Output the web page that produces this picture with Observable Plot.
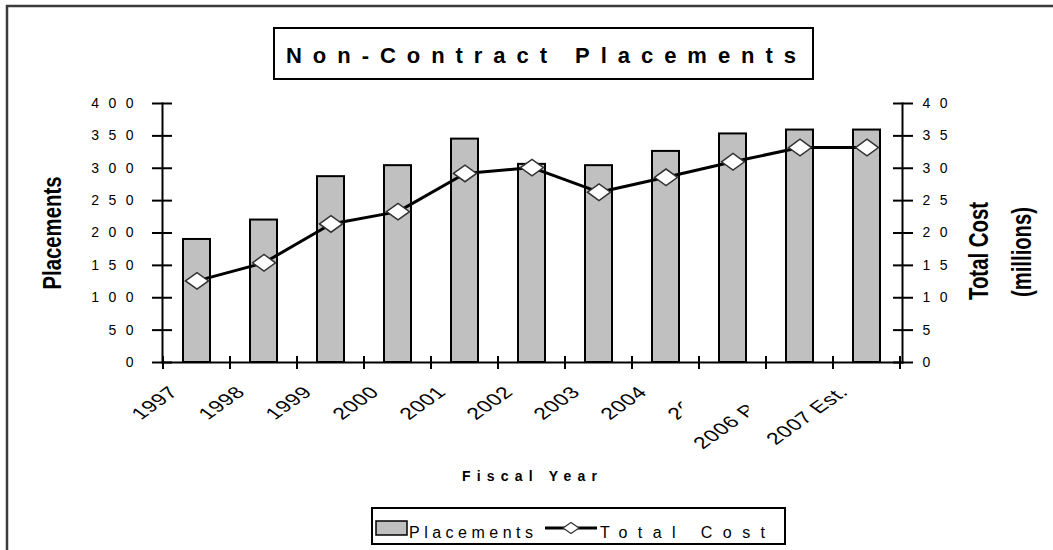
<!DOCTYPE html>
<html>
<head>
<meta charset="utf-8">
<script src="https://cdn.jsdelivr.net/npm/d3@7"></script>
<script src="https://cdn.jsdelivr.net/npm/@observablehq/plot@0.6"></script>
<style>
  html, body { margin: 0; padding: 0; background: #fff; }
  #chart { position: relative; width: 1053px; height: 550px; overflow: hidden; }
  #chart svg { display: block; }
  #chart g[aria-label="y-axis tick label"] text { letter-spacing: 9.5px; }
</style>
</head>
<body>
<div id="chart"></div>
<script>
// ---- data ----
const years = ["1997", "1998", "1999", "2000", "2001", "2002", "2003", "2004", "2005", "2006 Proj.", "2007 Est."];
const placements = [190, 220, 287, 304, 345, 306, 304, 326, 353, 359, 359];
const totalCost = [12.6, 15.4, 21.4, 23.3, 29.2, 30.1, 26.3, 28.6, 31.0, 33.2, 33.2];
const leftTicks = [0, 50, 100, 150, 200, 250, 300, 350, 400];
const rightTicks = [0, 5, 10, 15, 20, 25, 30, 35, 40];
const clippedLabels = ["2005", "2006 Proj."];
const titleText = "Non-Contract Placements";
const xTitle = "Fiscal Year";
const yLeftTitle = "Placements";
const yRightTitle = ["Total Cost", "(millions)"];
const legendBar = "Placements";
const legendLine = "Total Cost";
const costFactor = 10; // right axis (millions) maps onto left axis (placements)

const rows = years.map((year, i) => ({year, placements: placements[i], cost: totalCost[i]}));

const FONT = "'Liberation Sans', Arial, Helvetica, sans-serif";

const flatDiamond = {
  draw(ctx, size) {
    const r = Math.sqrt(size / Math.PI);
    const w = r, h = r * 0.72;
    ctx.moveTo(-w, 0); ctx.lineTo(0, -h); ctx.lineTo(w, 0); ctx.lineTo(0, h); ctx.closePath();
  }
};

const W = 1053, H = 550;
const plot = Plot.plot({
  width: W, height: H,
  marginLeft: 162, marginRight: 151, marginTop: 103, marginBottom: 188,
  style: {fontFamily: FONT, fontSize: "14px", color: "#000", background: "#fff", overflow: "visible"},
  x: {type: "band", domain: years, paddingInner: 0.59, paddingOuter: 0.295, axis: null},
  y: {domain: [0, 400], axis: null},
  marks: [
    Plot.barY(rows, {x: "year", y: "placements", fill: "#c0c0c0", stroke: "#000", strokeWidth: 2}),
    Plot.frame({anchor: "left", stroke: "#000", strokeWidth: 2}),
    Plot.frame({anchor: "right", stroke: "#000", strokeWidth: 2}),
    Plot.frame({anchor: "bottom", stroke: "#000", strokeWidth: 2}),
    Plot.axisY({ticks: leftTicks, tickSize: 20, dx: 10, tickPadding: 9.5, strokeWidth: 2,
      tickFormat: d => String(d), fontSize: 14, label: null}),
    Plot.axisY({anchor: "right", ticks: rightTicks.map(v => v * costFactor), tickSize: 20, dx: -10, tickPadding: 10,
      strokeWidth: 2, tickFormat: d => String(d / costFactor), fontSize: 14, label: null}),
    Plot.line(rows, {x: "year", y: d => d.cost * costFactor, stroke: "#000", strokeWidth: 3}),
    Plot.dot(rows, {x: "year", y: d => d.cost * costFactor, symbol: flatDiamond, r: 11.5,
      fill: "#fff", stroke: "#333", strokeWidth: 1.5})
  ]
});

document.getElementById("chart").append(plot);

const svg = d3.select(plot);
const sx = plot.scale("x");
const sy = plot.scale("y");
const gap = sx.step - sx.bandwidth;
const y0 = sy.apply(0);
const right = sx.apply(years[years.length - 1]) + sx.bandwidth + gap / 2;

// category boundary ticks on the x axis
const g = svg.append("g").attr("aria-label", "x-axis ticks");
years.concat([null]).forEach((yr) => {
  const x = yr === null ? right : sx.apply(yr) - gap / 2;
  g.append("line").attr("x1", x).attr("x2", x).attr("y1", y0 - 6).attr("y2", y0 + 7)
    .attr("stroke", "#000").attr("stroke-width", 2);
});

// x tick labels (rotated, stretched like the original)
const defs = svg.append("defs");
const lg = svg.append("g").attr("aria-label", "x-axis tick label")
  .attr("font-family", FONT).attr("font-size", 16.5).attr("fill", "#000").attr("text-anchor", "end");
years.forEach((yr, i) => {
  const cx = sx.apply(yr) + sx.bandwidth / 2;
  let parent = lg;
  if (clippedLabels.includes(yr)) {
    const id = "clip-lab-" + i;
    defs.append("clipPath").attr("id", id).append("rect")
      .attr("x", 0).attr("y", 0).attr("width", cx - 51).attr("height", H);
    parent = lg.append("g").attr("clip-path", `url(#${id})`);
  }
  parent.append("text")
    .attr("transform", `translate(${cx - 23},${y0 + 27}) scale(1.4,1) rotate(-45)`)
    .attr("text-anchor", "end").attr("dy", "0.35em").attr("letter-spacing", 0.5)
    .text(yr);
});

// outer chart-area border (top and left visible)
svg.append("path").attr("d", `M7,${H} L7,6 L${W},6`).attr("fill", "none")
  .attr("stroke", "#3a3a3a").attr("stroke-width", 2.5);

// title box
svg.append("rect").attr("x", 274).attr("y", 28).attr("width", 539).attr("height", 51)
  .attr("fill", "#fff").attr("stroke", "#000").attr("stroke-width", 2);
svg.append("text").attr("x", 286).attr("y", 63).attr("text-anchor", "start")
  .attr("font-family", FONT).attr("font-weight", "bold")
  .attr("font-size", 22).attr("textLength", 510).attr("lengthAdjust", "spacing").attr("fill", "#000")
  .text(titleText);

// axis titles
svg.append("text").attr("transform", `translate(52,233) rotate(-90)`).attr("text-anchor", "middle")
  .attr("dy", "0.35em").attr("font-family", FONT).attr("font-weight", "bold").attr("font-size", 26)
  .attr("textLength", 113).attr("lengthAdjust", "spacingAndGlyphs").attr("fill", "#000").text(yLeftTitle);
svg.append("text").attr("transform", `translate(979,251) rotate(-90)`).attr("text-anchor", "middle")
  .attr("dy", "0.35em").attr("font-family", FONT).attr("font-weight", "bold").attr("font-size", 27)
  .attr("textLength", 98).attr("lengthAdjust", "spacingAndGlyphs").attr("fill", "#000").text(yRightTitle[0]);
svg.append("text").attr("transform", `translate(1022,252) rotate(-90)`).attr("text-anchor", "middle")
  .attr("dy", "0.35em").attr("font-family", FONT).attr("font-weight", "bold").attr("font-size", 27)
  .attr("textLength", 90).attr("lengthAdjust", "spacingAndGlyphs").attr("fill", "#000").text(yRightTitle[1]);

// x axis title
svg.append("text").attr("x", 462).attr("y", 481).attr("text-anchor", "start")
  .attr("font-family", FONT).attr("font-weight", "bold")
  .attr("font-size", 14).attr("textLength", 135).attr("lengthAdjust", "spacing").attr("fill", "#000").text(xTitle);

// legend
const leg = svg.append("g").attr("aria-label", "legend").attr("text-anchor", "start");
leg.append("rect").attr("x", 372).attr("y", 508).attr("width", 413).attr("height", 36)
  .attr("fill", "#fff").attr("stroke", "#000").attr("stroke-width", 2);
leg.append("rect").attr("x", 376).attr("y", 521).attr("width", 31).attr("height", 14)
  .attr("fill", "#c0c0c0").attr("stroke", "#000").attr("stroke-width", 1.5);
leg.append("text").attr("x", 409).attr("y", 538).attr("text-anchor", "start")
  .attr("font-family", FONT).attr("font-size", 16)
  .attr("textLength", 124).attr("lengthAdjust", "spacing").attr("fill", "#000").text(legendBar);
leg.append("line").attr("x1", 545).attr("x2", 597).attr("y1", 528).attr("y2", 528)
  .attr("stroke", "#000").attr("stroke-width", 3);
leg.append("path").attr("d", "M563,528 L571,522.5 L579,528 L571,533.5 Z")
  .attr("fill", "#fff").attr("stroke", "#333").attr("stroke-width", 1.2);
leg.append("text").attr("x", 600).attr("y", 538).attr("text-anchor", "start")
  .attr("font-family", FONT).attr("font-size", 16)
  .attr("textLength", 165).attr("lengthAdjust", "spacing").attr("fill", "#000").text(legendLine);
</script>
</body>
</html>
